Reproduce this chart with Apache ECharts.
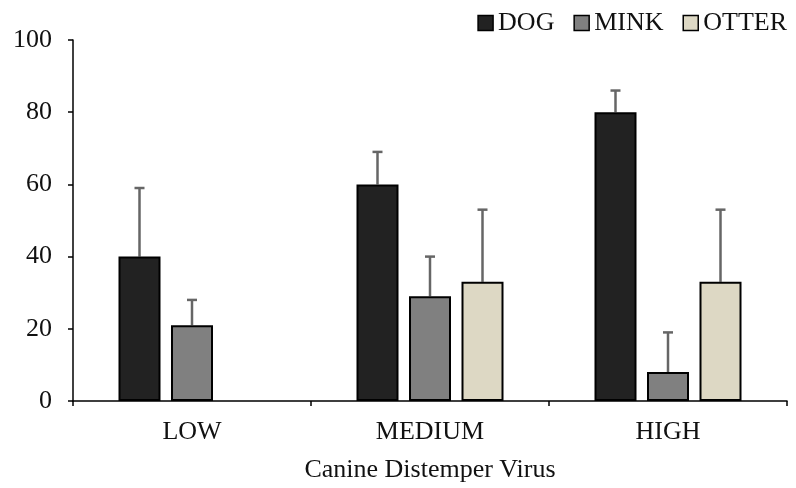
<!DOCTYPE html>
<html>
<head>
<meta charset="utf-8">
<script src="https://cdn.jsdelivr.net/npm/echarts@6/dist/echarts.min.js"></script>
<style>html,body{margin:0;padding:0;background:#fff}#c{width:796px;height:488px}</style>
</head>
<body>
<div id="c"></div>
<script>
const categories = ['LOW', 'MEDIUM', 'HIGH'];
const seriesNames = ['DOG', 'MINK', 'OTTER'];
const dogValues = [40, 60, 80];
const dogErrors = [59, 69, 86];
const minkValues = [21, 29, 8];
const minkErrors = [28, 40, 19];
const otterValues = [null, 33, 33];
const otterErrors = [null, 53, 53];
const yTicks = [0, 20, 40, 60, 80, 100];

const colors = ['#222222', '#808080', '#ddd8c4'];
const font = '"Liberation Serif", "Times New Roman", serif';
const FS = 26;
const BAR_W = 42, GAP = 10.5;

const valueSets = [dogValues, minkValues, otterValues];
const errorSets = [dogErrors, minkErrors, otterErrors];

const chart = echarts.init(document.getElementById('c'), null, {renderer: 'canvas'});

const barSeries = seriesNames.map((n, i) => ({
  name: n,
  type: 'bar',
  data: valueSets[i].map(v => v === null ? '-' : v),
  barWidth: BAR_W,
  barGap: (GAP / BAR_W * 100) + '%',
  itemStyle: {color: colors[i], borderColor: '#000', borderWidth: 2},
  z: 2
}));

const errSeries = seriesNames.map((n, i) => ({
  type: 'custom',
  name: n + '_err',
  data: valueSets[i].map((v, k) => v === null ? null : [k, v, errorSets[i][k]]).filter(d => d),
  renderItem: function (params, api) {
    const k = api.value(0), v = api.value(1), e = api.value(2);
    const p0 = api.coord([k, v]);
    const p1 = api.coord([k, e]);
    const x = p0[0] + (i - 1) * (BAR_W + GAP);
    const st = {stroke: '#666', lineWidth: 2.5};
    return {
      type: 'group',
      children: [
        {type: 'line', shape: {x1: x, y1: p0[1], x2: x, y2: p1[1]}, style: st},
        {type: 'line', shape: {x1: x - 5, y1: p1[1], x2: x + 5, y2: p1[1]}, style: st}
      ]
    };
  },
  z: 1,
  silent: true
}));

chart.setOption({
  animation: false,
  grid: {left: 73, right: 9, top: 40, bottom: 83, containLabel: false},
  legend: {
    data: seriesNames,
    right: 4, top: 5,
    itemWidth: 15, itemHeight: 15, itemGap: 19,
    icon: 'rect',
    textStyle: {fontFamily: font, fontSize: FS, color: '#111'},
    itemStyle: {borderColor: '#000', borderWidth: 1.5}
  },
  xAxis: {
    type: 'category',
    data: categories,
    axisLine: {lineStyle: {color: '#000', width: 1.5}},
    axisTick: {show: true, length: 5, lineStyle: {color: '#000', width: 1.5}},
    axisLabel: {fontFamily: font, fontSize: FS, color: '#111', margin: 18},
    name: 'Canine Distemper Virus',
    nameLocation: 'middle',
    nameGap: 56,
    nameTextStyle: {fontFamily: font, fontSize: FS, color: '#111'}
  },
  yAxis: {
    type: 'value',
    min: yTicks[0], max: yTicks[yTicks.length - 1], interval: 20,
    axisLine: {show: true, lineStyle: {color: '#000', width: 1.5}},
    axisTick: {show: true, length: 5, lineStyle: {color: '#000', width: 1.5}},
    splitLine: {show: false},
    axisLabel: {fontFamily: font, fontSize: FS, color: '#111', margin: 21}
  },
  series: [...barSeries, ...errSeries]
});
</script>
</body>
</html>
